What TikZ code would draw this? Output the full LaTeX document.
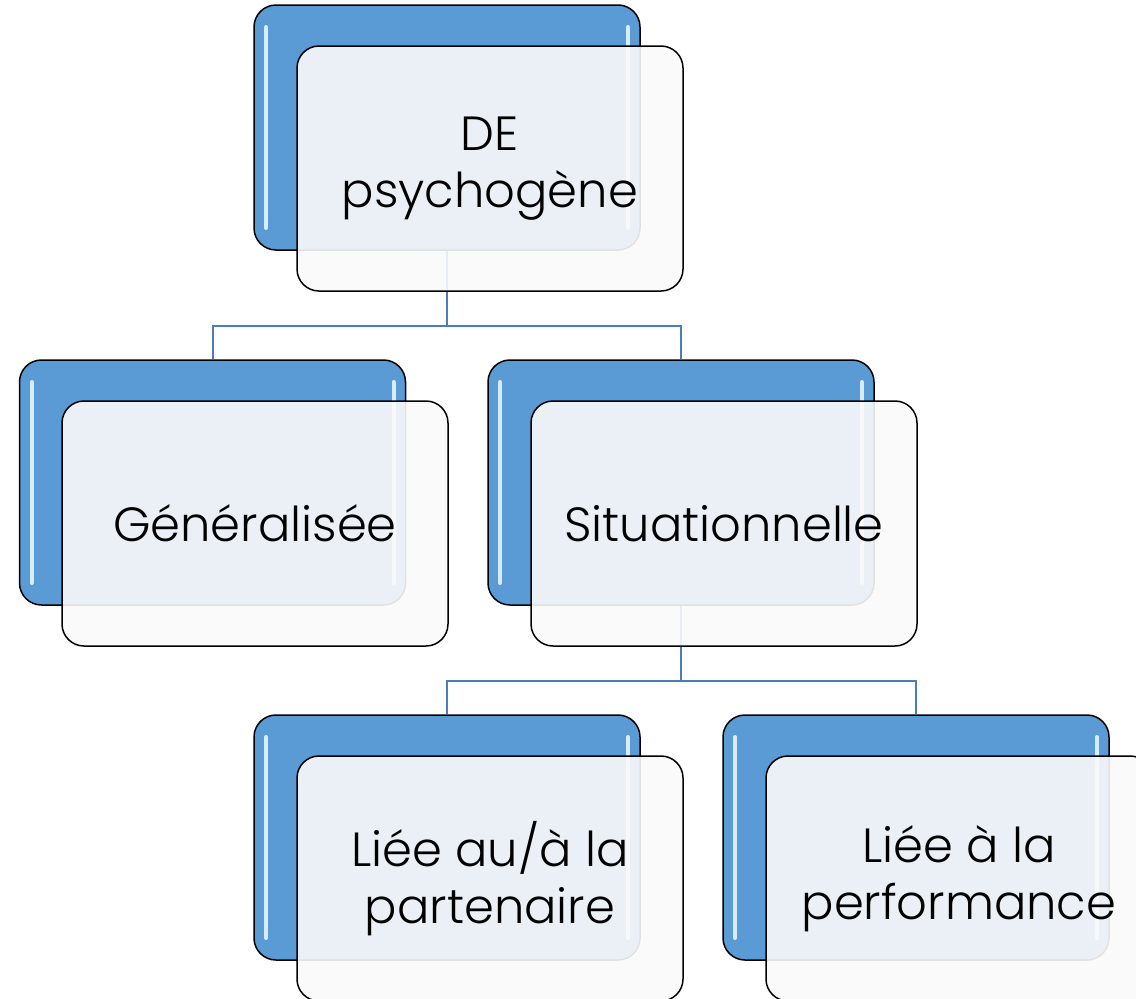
\documentclass[tikz,border=0pt]{standalone}
\usepackage{fontspec}
\setmainfont{Poppins}[UprightFont=* Light]
\definecolor{boxblue}{HTML}{5B9BD5}
\definecolor{linkblue}{HTML}{4A7EBB}
\definecolor{shine}{HTML}{D9ECFC}
\begin{document}
\begin{tikzpicture}[x=1pt,y=-1pt,
   back/.style={draw=black,line width=1.5pt,fill=boxblue,rounded corners=22pt,
      minimum width=386pt,minimum height=245pt,
      path picture={
        \draw[shine,line width=4pt,line cap=round]
          ([xshift=12pt,yshift=-22pt]path picture bounding box.north west) --
          ([xshift=12pt,yshift=22pt]path picture bounding box.south west);
        \draw[shine,line width=4pt,line cap=round]
          ([xshift=-12pt,yshift=-22pt]path picture bounding box.north east) --
          ([xshift=-12pt,yshift=22pt]path picture bounding box.south east);}},
   front/.style={draw=black,line width=1.5pt,fill=white!98!black,fill opacity=.9,
      text opacity=1,rounded corners=22pt,minimum width=386pt,minimum height=245pt,
      align=center,font=\fontsize{48}{57}\selectfont},
   link/.style={draw=linkblue,line width=2pt}]
\useasboundingbox (0,0) rectangle (1136,999);
\clip (0,0) rectangle (1136,999);
% back boxes
\node[back] (psy-b) at (447,127.5) {};
\node[back] (gen-b) at (212.5,482.5) {};
\node[back] (sit-b) at (681,482.5) {};
\node[back] (par-b) at (447,837.5) {};
\node[back] (perf-b) at (916,837.5) {};
% links
\draw[link] (psy-b.south) -- ++(0,75) -| (gen-b.north);
\draw[link] (psy-b.south) -- ++(0,75) -| (sit-b.north);
\draw[link] (sit-b.south) -- ++(0,75) -| (par-b.north);
\draw[link] (sit-b.south) -- ++(0,75) -| (perf-b.north);
% front boxes
\node[front] (psy) at (490,168.5) {DE\\psychogène};
\node[front] (gen) at (255,523.5) {Généralisée};
\node[front] (sit) at (724,523.5) {Situationnelle};
\node[front] (par) at (490,878.5) {Liée au/à la\\partenaire};
\node[front] (perf) at (959,878.5) {Liée à la\\performance};
\end{tikzpicture}
\end{document}
